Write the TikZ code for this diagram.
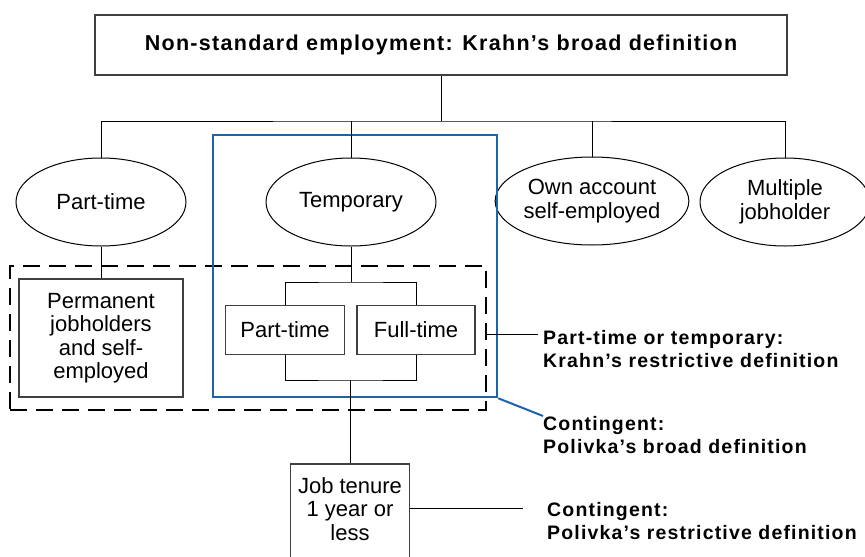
\documentclass[tikz,border=0pt]{standalone}
\usepackage{fontspec}
\setmainfont{Liberation Sans}
\usetikzlibrary{shapes.geometric}
\definecolor{nsblue}{RGB}{31,99,170}

\begin{document}
\begin{tikzpicture}[x=1pt,y=-1pt,
    every node/.style={font=\fontsize{22}{23.5}\selectfont, align=center},
    box/.style={draw=black!75, line width=1.5pt, rectangle, inner sep=0pt},
    oval/.style={draw, ellipse, line width=1pt, minimum width=170pt, minimum height=88pt, inner sep=0pt},
    wire/.style={line width=1pt},
    group/.style={draw, dash pattern=on 17pt off 9pt, line width=2.5pt, inner sep=0pt},
    blue group/.style={draw=nsblue, line width=2.5pt, inner sep=0pt},
    blue wire/.style={draw=nsblue, line width=2pt},
    note/.style={font=\fontsize{19.5}{23}\selectfont\bfseries\addfontfeatures{LetterSpace=6}, align=left, inner sep=0pt, anchor=north west}]
  \fill[white] (0,0) rectangle (865,557);
  \useasboundingbox (0,0) rectangle (865,557);
  \clip (0,0) rectangle (865,557);

  \node[box, minimum width=692pt, minimum height=60pt,
        font=\fontsize{21.5}{25}\selectfont\bfseries\addfontfeatures{LetterSpace=6}]
                          (title)      at (441,45)  {Non-standard employment: Krahn's broad definition};
  \node[oval]             (parttime)   at (101,202) {Part-time};
  \node[oval]             (temp)       at (351,202) {Temporary};
  \node[oval, minimum width=172pt] (own) at (592,201) {Own account\\self-employed};
  \node[oval]             (multi)      at (785,202) {Multiple\\jobholder};

  \node[box, minimum width=164pt, minimum height=118pt] (perm)  at (101,338) {Permanent\\jobholders\\and self-\\employed};
  \node[box, minimum width=119pt, minimum height=49pt]  (ptbox) at (285,330) {Part-time};
  \node[box, minimum width=118pt, minimum height=49pt]  (ftbox) at (416,330) {Full-time};
  \node[box, minimum width=119pt, minimum height=115pt, anchor=north] (tenure) at (350,463) {};
  \node[inner sep=0pt, anchor=north] (tenuretxt) at (350,477) {Job tenure\\1 year or\\less};

  \node[group, minimum width=476pt, minimum height=144pt]      (restrict)   at (248,338) {};
  \node[blue group, minimum width=284pt, minimum height=262pt] (contingent) at (355,266) {};

  \node[note] (krahn)    at (543,330) {Part-time or temporary:\\Krahn's restrictive definition};
  \node[note] (polbroad) at (543,416) {Contingent:\\Polivka's broad definition};
  \node[note] (polrestr) at (547,502) {Contingent:\\Polivka's restrictive definition};

  \coordinate (bus)   at (441,121);
  \coordinate (split) at (351,282);
  \coordinate (join)  at (350,380);
  \coordinate (tip1)  at (538,334);
  \coordinate (tip3)  at (523,508);

  \draw[wire] (title) -- (bus);
  \draw[wire] (parttime.north) |- (bus) -| (multi.north);
  \draw[wire] (temp.north) -- (temp.north |- bus);
  \draw[wire] (own.north) -- (own.north |- bus);
  \draw[wire] (parttime.south) -- (perm.north);
  \draw[wire] (temp.south) -- (split);
  \draw[wire] (ptbox.north) |- (split) -| (ftbox.north);
  \draw[wire] (ptbox.south) |- (join) -| (ftbox.south);
  \draw[wire] (join) -- (tenure.north);
  \draw[wire] (tip1 -| restrict.east) -- (tip1);
  \draw[blue wire] (contingent.south east) -- (polbroad.north west);
  \draw[wire] (tip3 -| tenure.east) -- (tip3);
\end{tikzpicture}
\end{document}
